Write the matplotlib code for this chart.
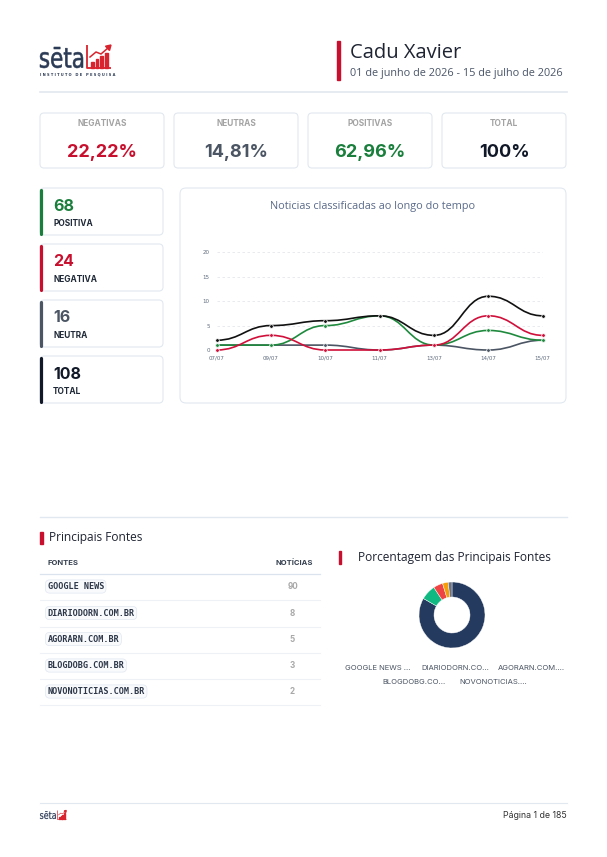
import matplotlib
matplotlib.use('Agg')
import matplotlib.pyplot as plt
from matplotlib.patches import FancyBboxPatch, Rectangle, PathPatch, Polygon
from matplotlib.path import Path
from matplotlib.textpath import TextPath
from matplotlib.font_manager import FontProperties
import matplotlib.transforms as mtransforms

W, H = 607, 857
DPI = 100

# ---------------- data ----------------
dates = ['07/07', '09/07', '10/07', '11/07', '13/07', '14/07', '15/07']
total_series = [2, 5, 6, 7, 3, 11, 7]
negative_series = [0, 3, 0, 0, 1, 7, 3]
positive_series = [1, 1, 5, 7, 1, 4, 2]
neutral_series = [1, 1, 1, 0, 1, 0, 2]
y_ticks = [0, 5, 10, 15, 20]

kpi_labels = ['NEGATIVAS', 'NEUTRAS', 'POSITIVAS', 'TOTAL']
kpi_values = ['22,22%', '14,81%', '62,96%', '100%']

count_labels = ['POSITIVA', 'NEGATIVA', 'NEUTRA', 'TOTAL']
count_values = [68, 24, 16, 108]

sources = ['GOOGLE NEWS', 'DIARIODORN.COM.BR', 'AGORARN.COM.BR',
           'BLOGDOBG.COM.BR', 'NOVONOTICIAS.COM.BR']
source_counts = [90, 8, 5, 3, 2]
legend_labels = ['GOOGLE NEWS ...', 'DIARIODORN.CO...', 'AGORARN.COM....',
                 'BLOGDOBG.CO...', 'NOVONOTICIAS....']

# ---------------- styles ----------------
RED = '#c8102e'
GREEN = '#1a7f3c'
GREY = '#4b5563'
DARK = '#111827'
BORDER = '#e2e8f0'
HEAD_FONT = 'Open Sans'
CARD_FONT = 'Inter'

fig = plt.figure(figsize=(W / DPI, H / DPI), dpi=DPI)
fig.patch.set_facecolor('white')
bg = fig.add_axes([0, 0, 1, 1])
bg.set_xlim(0, W)
bg.set_ylim(H, 0)
bg.axis('off')


def card(x0, y0, x1, y1, r=4, ec=BORDER, lw=0.8):
    p = FancyBboxPatch((x0, y0), x1 - x0, y1 - y0,
                       boxstyle=f'round,pad=0,rounding_size={r}',
                       fc='white', ec=ec, lw=lw, zorder=1)
    bg.add_patch(p)


def logo(x, y, s=1.0):
    # "sēta" word squeezed into a box (x .. x+43s, baseline y, height 21s)
    tp = TextPath((0, 0), 'sēta', size=1,
                  prop=FontProperties(family='DejaVu Sans', weight='normal'))
    bb = tp.get_extents()
    tr = (mtransforms.Affine2D().translate(-bb.x0, -bb.y0)
          .scale(43 * s / bb.width, -21 * s / bb.height).translate(x, y))
    bg.add_patch(PathPatch(tr.transform_path(tp), fc='#2b3a55', ec='#2b3a55',
                           lw=0.4 * s, zorder=3))
    ix = x + 47 * s
    iy = y
    red = '#d9232e'
    bg.plot([ix, ix, ix + 24 * s], [iy - 23 * s, iy, iy],
            color=red, lw=1.3 * s, solid_capstyle='butt', zorder=3)
    for k, hgt in enumerate([6, 9, 12, 15]):
        bg.add_patch(Rectangle((ix + (4 + 4.6 * k) * s, iy - hgt * s),
                               2.8 * s, hgt * s, color=red, zorder=3))
    bg.plot([ix + 3 * s, ix + 9 * s, ix + 14 * s, ix + 21 * s],
            [iy - 11 * s, iy - 16 * s, iy - 14 * s, iy - 20 * s],
            color=red, lw=1.1 * s, zorder=3)
    bg.add_patch(Polygon([[ix + 24 * s, iy - 23 * s],
                          [ix + 18.5 * s, iy - 21.8 * s],
                          [ix + 22.5 * s, iy - 17.5 * s]],
                         closed=True, color=red, zorder=3))
    if s > 0.6:
        bg.text(x, y + 6.5 * s, 'I N S T I T U T O   D E   P E S Q U I S A',
                fontsize=2.6 * s, color='#2b3a55', fontweight='bold',
                va='center', ha='left', zorder=3)


# ---------------- header ----------------
logo(40, 68)
bg.add_patch(Rectangle((337, 41), 3, 39, color=RED, zorder=2))
bg.text(350, 53, 'Cadu Xavier', fontsize=14.5, color='#1f2433', family=HEAD_FONT,
        va='center', ha='left')
bg.text(350, 73.5, '01 de junho de 2026 - 15 de julho de 2026', fontsize=7.8,
        color='#4a5568', family=HEAD_FONT, va='center', ha='left')
bg.plot([40, 567], [92, 92], color=BORDER, lw=1.2)

# ---------------- KPI cards ----------------
kpi_colors = [RED, GREY, GREEN, DARK]
for i, (lab, val, col) in enumerate(zip(kpi_labels, kpi_values, kpi_colors)):
    x0 = 40 + i * 134
    x1 = x0 + 124
    card(x0, 113, x1, 168)
    cx = (x0 + x1) / 2
    bg.text(cx, 123.5, lab, fontsize=6, color='#a3a3a3', fontweight='bold',
            family=CARD_FONT, ha='center', va='center', zorder=3)
    bg.text(cx, 152, val, fontsize=13, color=col, fontweight='bold',
            family=CARD_FONT, ha='center', va='center', zorder=3)

# ---------------- count cards ----------------
count_colors = [GREEN, RED, GREY, DARK]
for i, (lab, val, col) in enumerate(zip(count_labels, count_values, count_colors)):
    y0 = 188 + i * 56
    y1 = y0 + 47
    card(40, y0, 163, y1)
    bg.plot([41.3, 41.3], [y0 + 1.5, y1 - 1.5], color=col, lw=2.3,
            solid_capstyle='round', zorder=3)
    bg.text(53, y0 + 18, str(val), fontsize=11.5, color=col, fontweight='bold',
            family=CARD_FONT, ha='left', va='center', zorder=3)
    bg.text(53, y0 + 35, lab, fontsize=6, color='#1f2937', fontweight='bold',
            family=CARD_FONT, ha='left', va='center', zorder=3)

# ---------------- line chart card ----------------
card(180, 188, 566, 403, r=6)
bg.text(372.5, 206.5, 'Noticias classificadas ao longo do tempo', fontsize=7.8,
        color='#5b6b8a', family=HEAD_FONT, ha='center', va='center', zorder=3)

ax = fig.add_axes([216.7 / W, 1 - 350 / H, (542.7 - 216.7) / W, (350 - 252.3) / H])
ax.set_xlim(0, len(dates) - 1)
ax.set_ylim(0, 20)
ax.set_facecolor('none')
for s in ax.spines.values():
    s.set_visible(False)
ax.set_yticks(y_ticks)
ax.set_yticklabels([str(v) for v in y_ticks])
ax.set_xticks(range(len(dates)))
ax.set_xticklabels(dates)
ax.tick_params(axis='both', length=0, labelsize=4, labelcolor='#5f6b7d')
ax.tick_params(axis='y', pad=5)
ax.tick_params(axis='x', pad=4)
ax.yaxis.grid(True, color='#e5e7eb', lw=0.6, ls=(0, (3, 3)))
ax.set_axisbelow(True)


def smooth_line(values, color, z):
    xs = list(range(len(values)))
    verts = [(xs[0], values[0])]
    codes = [Path.MOVETO]
    c = 0.45
    for i in range(len(values) - 1):
        x0, y0, x1, y1 = xs[i], values[i], xs[i + 1], values[i + 1]
        verts += [(x0 + c * (x1 - x0), y0), (x1 - c * (x1 - x0), y1), (x1, y1)]
        codes += [Path.CURVE4] * 3
    ax.add_patch(PathPatch(Path(verts, codes), fill=False, ec=color, lw=1.2,
                           zorder=z, clip_on=False, capstyle='round'))
    ax.plot(xs, values, ls='none', marker='o', ms=2.6, mfc=color, mec='white',
            mew=0.5, zorder=z + 0.5, clip_on=False)


smooth_line(neutral_series, '#4b5563', 3)
smooth_line(positive_series, '#1f8a3e', 4)
smooth_line(negative_series, '#d0103a', 5)
smooth_line(total_series, '#111111', 6)

# ---------------- separator ----------------
bg.plot([40, 567], [517, 517], color=BORDER, lw=1.0)

# ---------------- table ----------------
bg.add_patch(Rectangle((40, 531.5), 2.5, 12, color=RED, zorder=2))
bg.text(49, 537.5, 'Principais Fontes', fontsize=8.6, color='#1f2433',
        family=HEAD_FONT, ha='left', va='center')
bg.text(47, 563, 'FONTES', fontsize=5.5, color='#374151', fontweight='bold',
        family=CARD_FONT, ha='left', va='center')
bg.text(313, 563, 'NOTÍCIAS', fontsize=5.5, color='#374151', fontweight='bold',
        family=CARD_FONT, ha='right', va='center')
bg.plot([40, 320], [574, 574], color='#dbe3ee', lw=0.9)
row_y = [586.5, 613, 639, 665.5, 691.5]
for src, cnt, ry in zip(sources, source_counts, row_y):
    bg.text(47.5, ry, src, fontsize=6.1, color='#2d3748', fontweight='bold',
            family='DejaVu Sans Mono', ha='left', va='center', zorder=3,
            bbox=dict(boxstyle='round,pad=0.25,rounding_size=0.5', fc='#f8fafc',
                      ec='#e1e7f0', lw=0.5))
    bg.text(292.5, ry, str(cnt), fontsize=5.8, color='#a8a8a8', fontweight='bold',
            family=CARD_FONT, ha='center', va='center')
    bg.plot([40, 320], [ry + 13.5, ry + 13.5], color='#eef1f5', lw=0.8)

# ---------------- donut ----------------
bg.add_patch(Rectangle((338.5, 550.5), 2.5, 13, color=RED, zorder=2))
bg.text(358, 557, 'Porcentagem das Principais Fontes', fontsize=8.6, color='#1f2433',
        family=HEAD_FONT, ha='left', va='center')
R = 33
cx, cy = 452, 615
dax = fig.add_axes([(cx - R) / W, 1 - (cy + R) / H, 2 * R / W, 2 * R / H])
donut_colors = ['#243a5e', '#10b981', '#ef4444', '#f59e0b', '#6b7280']
dax.pie(source_counts, colors=donut_colors, startangle=90, counterclock=False,
        radius=1, wedgeprops=dict(width=15 / 33, edgecolor='white', linewidth=0.3))
dax.set_xlim(-1, 1)
dax.set_ylim(-1, 1)
dax.set_aspect('equal')
dax.axis('off')

leg_pos = [(378, 667.5), (455, 667.5), (531, 667.5), (414, 682.5), (493, 682.5)]
for lab, (lx, ly) in zip(legend_labels, leg_pos):
    bg.text(lx, ly, lab, fontsize=5.5, color='#4b5563', family=CARD_FONT,
            ha='center', va='center')

# ---------------- footer ----------------
bg.plot([40, 567], [803, 803], color=BORDER, lw=0.8)
logo(40, 819, s=0.37)
bg.text(567, 815, 'Página 1 de 185', fontsize=6.3, color='#333333',
        family=CARD_FONT, ha='right', va='center')

fig.savefig('out.png', dpi=DPI, facecolor='white')
